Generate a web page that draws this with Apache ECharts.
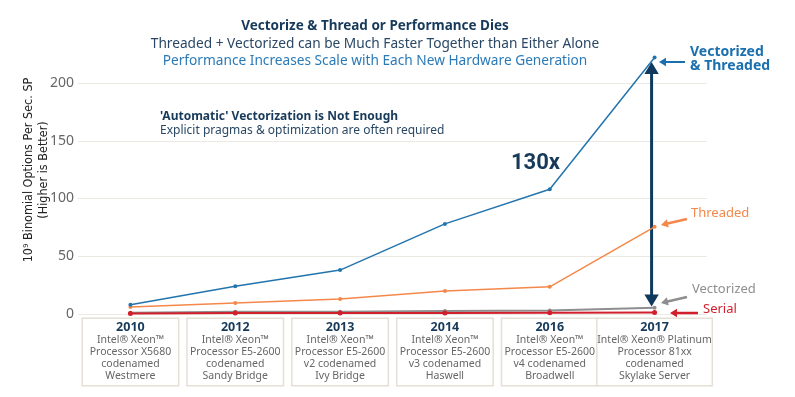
<!DOCTYPE html>
<html>
<head>
<meta charset="utf-8">
<script src="https://cdn.jsdelivr.net/npm/echarts@6/dist/echarts.min.js"></script>
<style>
  html, body { margin: 0; padding: 0; background: #fff; }
  #chart { width: 795px; height: 397px; }
</style>
</head>
<body>
<div id="chart"></div>
<script>
// data
var years = ['2010', '2012', '2013', '2014', '2016', '2017'];
var cpuNames = [
  ['Intel® Xeon™', 'Processor X5680', 'codenamed', 'Westmere'],
  ['Intel® Xeon™', 'Processor E5-2600', 'codenamed', 'Sandy Bridge'],
  ['Intel® Xeon™', 'Processor E5-2600', 'v2 codenamed', 'Ivy Bridge'],
  ['Intel® Xeon™', 'Processor E5-2600', 'v3 codenamed', 'Haswell'],
  ['Intel® Xeon™', 'Processor E5-2600', 'v4 codenamed', 'Broadwell'],
  ['Intel® Xeon® Platinum', 'Processor 81xx', 'codenamed', 'Skylake Server']
];
var vecThreaded = [8, 24, 38, 78, 108, 222];
var threaded = [6, 9.5, 13, 20, 23.5, 75.5];
var vectorized = [1, 2, 2, 2.6, 3, 5.5];
var serial = [0.5, 0.8, 0.8, 0.9, 1, 1.2];
var yTicks = [0, 50, 100, 150, 200];
// the 130x span: from vectorized&threaded down to vectorized in 2017
var spanTop = 219, spanBottom = 9;

var navy = '#173a5a';
var blue = '#2274ad';
var orange = '#f4884a';
var gray = '#8e8e8e';
var red = '#d11f2c';

function arrowHead(x, y, a, color, hl) {
  var hw = hl * 0.6;
  var bx = x - hl * Math.cos(a), by = y - hl * Math.sin(a);
  return { type: 'polygon', shape: { points: [
    [x, y],
    [bx + hw * Math.sin(a), by - hw * Math.cos(a)],
    [bx - hw * Math.sin(a), by + hw * Math.cos(a)]
  ] }, style: { fill: color } };
}

function arrow(x1, y1, x2, y2, color, w, hl, both) {
  var a = Math.atan2(y2 - y1, x2 - x1);
  var ex = x2 - hl * 0.8 * Math.cos(a), ey = y2 - hl * 0.8 * Math.sin(a);
  var sx = x1, sy = y1;
  var kids = [];
  if (both) {
    sx = x1 + hl * 0.8 * Math.cos(a); sy = y1 + hl * 0.8 * Math.sin(a);
    kids.push(arrowHead(x1, y1, a + Math.PI, color, hl));
  }
  kids.unshift({ type: 'line', shape: { x1: sx, y1: sy, x2: ex, y2: ey }, style: { stroke: color, lineWidth: w } });
  kids.push(arrowHead(x2, y2, a, color, hl));
  return { type: 'group', children: kids };
}

var font = '"Noto Sans", "Open Sans", sans-serif';
var narrow = '"DejaVu Sans Condensed", "Liberation Sans Narrow", sans-serif';

var chart = echarts.init(document.getElementById('chart'));
var graphics = [
  { type: 'text', x: 36, y: 170, rotation: Math.PI / 2,
    style: { text: '10⁹ Binomial Options Per Sec. SP\n(Higher is Better)', fontSize: 12.5, lineHeight: 15,
      fill: '#222', align: 'center', verticalAlign: 'middle', fontFamily: narrow } },
  { type: 'text', left: 160, top: 111, style: { text: "'Automatic' Vectorization is Not Enough", fontSize: 12, fontWeight: 'bold', fill: navy, fontFamily: font } },
  { type: 'text', left: 160, top: 125, style: { text: 'Explicit pragmas & optimization are often required', fontSize: 12, fill: '#2a4865', fontFamily: font } },
  { type: 'text', left: 511, top: 152, style: { text: '130x', fontSize: 22, fontWeight: 'bold', fill: navy, fontFamily: 'Roboto, "Liberation Sans", sans-serif' } },
  { type: 'text', left: 690, top: 45, style: { text: 'Vectorized\n& Threaded', fontSize: 14, fontWeight: 'bold', fill: '#1a6fae', lineHeight: 14, fontFamily: font } },
  { type: 'text', left: 691, top: 207, style: { text: 'Threaded', fontSize: 13, fill: orange, fontFamily: font } },
  { type: 'text', left: 692, top: 283, style: { text: 'Vectorized', fontSize: 13, fill: gray, fontFamily: font } },
  { type: 'text', left: 703, top: 303, style: { text: 'Serial', fontSize: 13, fill: red, fontFamily: font } },
  arrow(685, 62, 659, 62, '#1a6fae', 2, 7),
  arrow(687, 219, 661, 225, orange, 2.5, 7),
  arrow(687, 297, 661, 303, gray, 2.5, 7),
  arrow(698, 313, 670, 313, red, 2.5, 7)
];

chart.setOption({
  animation: false,
  textStyle: { fontFamily: font },
  title: [
    { text: 'Vectorize & Thread or Performance Dies', left: 370, top: 14, textAlign: 'center',
      textStyle: { fontSize: 13.5, fontWeight: 'bold', color: navy, fontFamily: font } },
    { text: 'Threaded + Vectorized can be Much Faster Together than Either Alone', left: 370, top: 32, textAlign: 'center',
      textStyle: { fontSize: 13.7, fontWeight: 'normal', color: '#2a4865', fontFamily: font } },
    { text: 'Performance Increases Scale with Each New Hardware Generation', left: 370, top: 49, textAlign: 'center',
      textStyle: { fontSize: 13.7, fontWeight: 'normal', color: '#2a7ab8', fontFamily: font } }
  ],
  grid: { left: 78, right: 88, top: 83, bottom: 83 },
  xAxis: {
    type: 'category',
    data: years,
    axisLine: { show: false },
    axisTick: { show: false },
    axisLabel: {
      margin: 5,
      interval: 0,
      formatter: function (v, i) {
        var k = i === years.length - 1 ? 'w' : 't';
        var yk = i === years.length - 1 ? 'yw' : 'y';
        return '{' + yk + '|' + v + '}\n' + cpuNames[i].map(function (s) { return '{' + k + '|' + s + '}'; }).join('\n');
      },
      padding: [2, 4, 3, 4],
      borderColor: '#e4e0d4',
      borderWidth: 1.5,
      backgroundColor: '#fff',
      align: 'center',
      rich: {
        y: { fontSize: 12.5, fontWeight: 'bold', color: navy, lineHeight: 13, fontFamily: font, align: 'center', width: 87 },
        yw: { fontSize: 12.5, fontWeight: 'bold', color: navy, lineHeight: 13, fontFamily: font, align: 'center', width: 106 },
        t: { fontSize: 10.5, color: '#666', lineHeight: 12, fontFamily: font, align: 'center', width: 87 },
        w: { fontSize: 10.5, color: '#666', lineHeight: 12, fontFamily: font, align: 'center', width: 106 }
      }
    }
  },
  yAxis: {
    type: 'value',
    min: 0,
    max: 200,
    interval: 50,
    axisLine: { show: false },
    axisTick: { show: false },
    axisLabel: { fontSize: 14, color: '#666', margin: 4, formatter: function (v) { return yTicks.indexOf(v) >= 0 ? v : ''; } },
    splitLine: { lineStyle: { color: '#ece9e2', width: 1 } }
  },
  series: [
    { name: 'Serial', type: 'line', data: serial, clip: false, symbol: 'circle', symbolSize: 5,
      lineStyle: { color: red, width: 2 }, itemStyle: { color: red }, z: 4 },
    { name: 'Vectorized', type: 'line', data: vectorized, clip: false, symbol: 'circle', symbolSize: 4,
      lineStyle: { color: gray, width: 2 }, itemStyle: { color: gray }, z: 3 },
    { name: 'Threaded', type: 'line', data: threaded, clip: false, symbol: 'circle', symbolSize: 4,
      lineStyle: { color: orange, width: 1.5 }, itemStyle: { color: orange }, z: 3 },
    { name: 'Vectorized & Threaded', type: 'line', data: vecThreaded, clip: false, symbol: 'circle', symbolSize: 4,
      lineStyle: { color: blue, width: 1.5 }, itemStyle: { color: blue }, z: 3 }
  ],
  graphic: graphics
});

// double arrow for the 130x span, placed through the axes
var pTop = chart.convertToPixel({ gridIndex: 0 }, ['2017', spanTop]);
var pBot = chart.convertToPixel({ gridIndex: 0 }, ['2017', spanBottom]);
graphics.push(arrow(pTop[0] - 3, pTop[1] + 1, pBot[0] - 3, pBot[1] + 3, '#0f3a5e', 3, 12, true));
chart.setOption({ graphic: graphics }, { replaceMerge: ['graphic'] });
</script>
</body>
</html>
